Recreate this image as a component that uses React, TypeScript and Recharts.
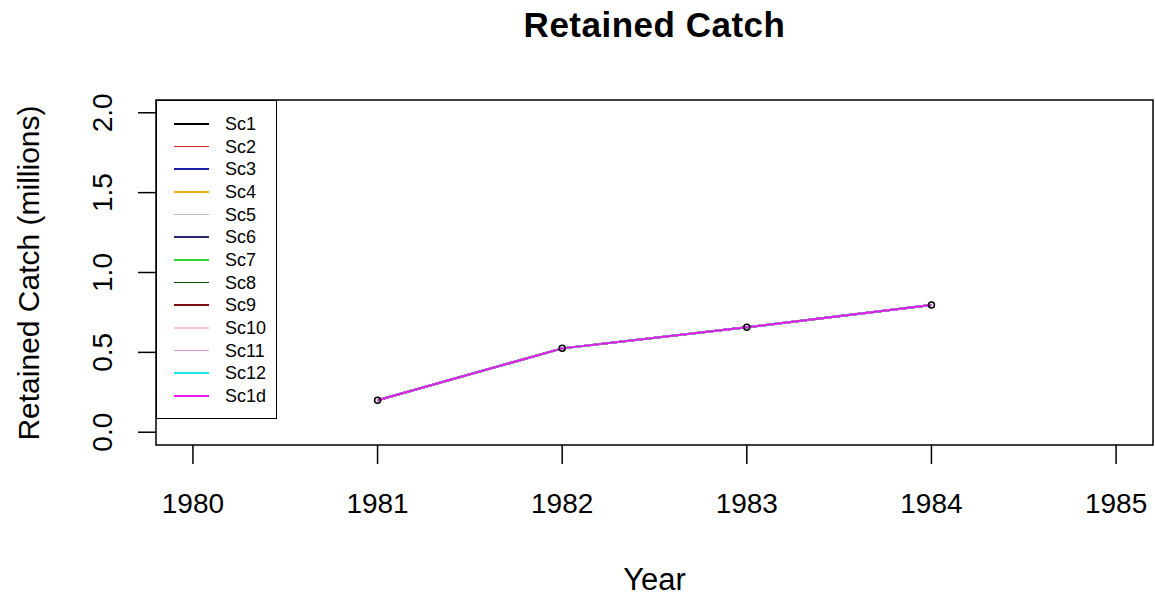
import { LineChart, Line, XAxis, YAxis, ReferenceArea, Legend } from "recharts";

const years = [1981, 1982, 1983, 1984];

// all scenarios overlap in the picture
const sc1 = [0.2, 0.525, 0.657, 0.797];
const sc2 = [0.2, 0.525, 0.657, 0.797];
const sc3 = [0.2, 0.525, 0.657, 0.797];
const sc4 = [0.2, 0.525, 0.657, 0.797];
const sc5 = [0.2, 0.525, 0.657, 0.797];
const sc6 = [0.2, 0.525, 0.657, 0.797];
const sc7 = [0.2, 0.525, 0.657, 0.797];
const sc8 = [0.2, 0.525, 0.657, 0.797];
const sc9 = [0.2, 0.525, 0.657, 0.797];
const sc10 = [0.2, 0.525, 0.657, 0.797];
const sc11 = [0.2, 0.525, 0.657, 0.797];
const sc12 = [0.2, 0.525, 0.657, 0.797];
const sc1d = [0.2, 0.525, 0.657, 0.797];
const observed = [0.2, 0.525, 0.657, 0.797];

const xTicks = [1980, 1981, 1982, 1983, 1984, 1985];
const yTicks = [0, 0.5, 1, 1.5, 2];

const scenarios = [
  { name: "Sc1", color: "#000000", values: sc1 },
  { name: "Sc2", color: "#d42020", values: sc2 },
  { name: "Sc3", color: "#1c1ca8", values: sc3 },
  { name: "Sc4", color: "#e8a818", values: sc4 },
  { name: "Sc5", color: "#bebebe", values: sc5 },
  { name: "Sc6", color: "#2a2a70", values: sc6 },
  { name: "Sc7", color: "#30d030", values: sc7 },
  { name: "Sc8", color: "#0b5a0b", values: sc8 },
  { name: "Sc9", color: "#7a1010", values: sc9 },
  { name: "Sc10", color: "#f4c4dc", values: sc10 },
  { name: "Sc11", color: "#dc9adc", values: sc11 },
  { name: "Sc12", color: "#20e4ec", values: sc12 },
  { name: "Sc1d", color: "#e81ce8", values: sc1d },
];

const data = years.map((year, i) => {
  const row: Record<string, number> = { year, obs: observed[i] };
  scenarios.forEach((s) => {
    row[s.name] = s.values[i];
  });
  return row;
});

const FONT = '"Liberation Sans", Arial, sans-serif';

const YTick = ({ x, y, payload }: any) => (
  <text
    x={x}
    y={y}
    transform={`rotate(-90, ${x}, ${y})`}
    textAnchor="middle"
    fontSize={28}
    fontFamily={FONT}
    fill="#000"
  >
    {Number(payload.value).toFixed(1)}
  </text>
);

// legend keeps the scenario order (not sorted)
const LegendBox = () => (
  <div
    style={{
      position: "relative",
      width: 121,
      height: 319,
      boxSizing: "border-box",
      border: "1.5px solid #000",
      background: "#fff",
      fontFamily: FONT,
    }}
  >
    {scenarios.map((s, i) => (
      <div
        key={s.name}
        style={{ position: "absolute", left: 0, top: 11 + i * 22.67, height: 24, width: 119 }}
      >
        <div
          style={{
            position: "absolute",
            left: 17,
            top: 11,
            width: 35,
            height: 1.5,
            background: s.color,
          }}
        />
        <div
          style={{
            position: "absolute",
            left: 68,
            top: 0,
            lineHeight: "24px",
            fontSize: 18,
            color: "#000",
          }}
        >
          {s.name}
        </div>
      </div>
    ))}
  </div>
);

export default function App() {
  return (
    <div
      style={{
        position: "absolute",
        left: 0,
        top: 0,
        width: 1155,
        height: 598,
        background: "#fff",
        fontFamily: FONT,
      }}
    >
      <div
        style={{
          position: "absolute",
          left: 156,
          width: 997,
          top: 7,
          fontSize: 35,
          lineHeight: "35px",
          fontWeight: "bold",
          textAlign: "center",
          letterSpacing: 0.5,
        }}
      >
        Retained Catch
      </div>
      <div
        style={{
          position: "absolute",
          left: 29 - 200,
          top: 272.5 - 15,
          width: 400,
          height: 30,
          lineHeight: "30px",
          fontSize: 30,
          textAlign: "center",
          transform: "rotate(-90deg)",
        }}
      >
        Retained Catch (millions)
      </div>
      <div
        style={{
          position: "absolute",
          left: 156,
          width: 997,
          top: 564,
          fontSize: 31,
          lineHeight: "31px",
          textAlign: "center",
        }}
      >
        Year
      </div>
      <LineChart
        width={1155}
        height={598}
        data={data}
        margin={{ top: 100, right: 2, bottom: 93, left: 96 }}
        style={{ position: "absolute", left: 0, top: 0 }}
      >
        <XAxis
          dataKey="year"
          type="number"
          domain={[1979.8, 1985.2]}
          ticks={xTicks}
          allowDataOverflow
          height={60}
          axisLine={false}
          tickSize={19}
          tickMargin={29}
          tickLine={{ stroke: "#000", strokeWidth: 1.5 }}
          tick={{ fontSize: 28, fill: "#000", fontFamily: FONT }}
          interval={0}
        />
        <YAxis
          type="number"
          domain={[-0.08, 2.08]}
          ticks={yTicks}
          allowDataOverflow
          width={60}
          axisLine={false}
          tickSize={18}
          tickMargin={26}
          tickLine={{ stroke: "#000", strokeWidth: 1.5 }}
          tick={<YTick />}
          interval={0}
        />
        <ReferenceArea
          x1={1979.8}
          x2={1985.2}
          y1={-0.08}
          y2={2.08}
          fill="none"
          stroke="#000"
          strokeWidth={1.5}
          ifOverflow="visible"
        />
        {scenarios.map((s) => (
          <Line
            key={s.name}
            dataKey={s.name}
            name={s.name}
            stroke={s.color}
            strokeWidth={2}
            dot={false}
            activeDot={false}
            isAnimationActive={false}
          />
        ))}
        <Line
          dataKey="obs"
          stroke="none"
          legendType="none"
          dot={{ r: 3, stroke: "#000", strokeWidth: 1.5, fill: "none" }}
          activeDot={false}
          isAnimationActive={false}
        />
        <Legend
          layout="vertical"
          align="center"
          verticalAlign="middle"
          content={<LegendBox />}
          wrapperStyle={{ left: 156, top: 100, width: 121, height: 319 }}
        />
      </LineChart>
    </div>
  );
}
